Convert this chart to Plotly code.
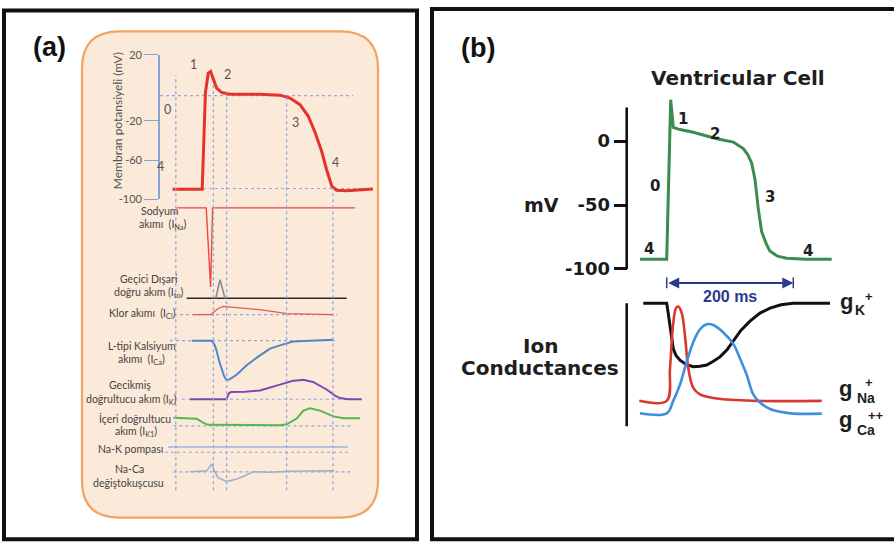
import plotly.graph_objects as go

W, H = 894, 552

# ================= DATA =================
# ---- Panel (a): action potential (schematic ms / mV) ----
ap_a_t  = [-81, -7, 1, 8, 14, 21, 29, 42, 62.5, 137.5, 187.5, 212.5, 237.5, 258, 275, 292, 304, 317, 329, 354, 387.5, 420]
ap_a_mv = [-89.7, -89.7, 8.6, 28.5, 30.5, 21.5, 13.5, 8.9, 7.3, 7.3, 6.3, 3.3, -3.4, -15, -31.6, -51.5, -69.8, -86.4, -90.7, -91.3, -90.7, -89.5]
ap_a_tickvals = [47.4, -20, -60, -100]
ap_a_ticktext = ["20", "-20", "-60", "-100"]
ap_a_zero_t, ap_a_zero_mv = [-112.5, 370], [5.9, 5.9]
ap_a_rest_t, ap_a_rest_mv = [-80, 420], [-88.9, -88.9]
phase_t_a = [-73, 21, 54, 204, 320]
phase_labels_a = ["1", "2", "0", "3", "4", "4"]

# ---- Panel (a): ionic currents (normalised amplitude) ----
na_t = [-71, 3, 14, 19, 375]
na_v = [0, 0, -1, 0, 0]

ito_base_t, ito_base_v = [-46, 354], [0, 0]
ito_t = [27, 37.5, 50]
ito_v = [0, 1, 0]

cl_t = [-30, 15, 20, 32, 45, 87, 137, 205, 320]
cl_v = [0, 0, 0.24, 0.72, 1.0, 0.84, 0.6, 0.12, 0]
cl_ref_t = [-62.5, 330]

ca_t = [-33, 17, 24, 29, 35, 42, 47.5, 54, 62.5, 79, 104, 137.5, 162.5, 187.5, 220, 320]
ca_v = [0, 0, -0.11, -0.25, -0.5, -0.7, -0.89, -1, -0.97, -0.86, -0.62, -0.37, -0.2, -0.12, -0.02, 0.02]
ca_ref_t = [-87.5, 329]

k_t = [-37.5, 54, 59, 65, 100, 137.5, 187.5, 217.5, 246, 270, 304, 325, 337.5, 357.5, 392]
k_v = [0, 0, 0.285, 0.37, 0.385, 0.45, 0.75, 0.935, 1.0, 0.885, 0.5, 0.185, 0.06, 0, 0]
k_ref_t = [-58, 392]

k1_t = [-79, -21, -4, 8, 187.5, 204, 229, 246, 262.5, 287.5, 321, 346, 387.5]
k1_v = [0.46, 0.41, 0.17, 0.06, 0.04, 0.09, 0.41, 0.87, 1.0, 0.87, 0.54, 0.44, 0.44]
k1_ref_t = [-79, 371]

nak_t, nak_v = [-92.5, 357.5], [1, 1]
nak_ref_t = [-100, 357.5]

naca_t = [-37.5, 5, 11, 17, 22.5, 32.5, 54, 75, 100, 120, 162.5, 212.5, 320]
naca_v = [0, 0.125, 0.625, 1.0, 0.25, -0.75, -1.25, -1.0, -0.5, 0, -0.06, 0.06, 0.125]
naca_ref_t = [-79, 371]

current_labels = [
    "Sodyum", "akımı  (I<sub>Na</sub>)",
    "Geçici Dışari", "doğru akım (I<sub>to</sub>)",
    "Klor akımı  (I<sub>Cl</sub>)",
    "L-tipi Kalsiyum", "akımı  (I<sub>Ca</sub>)",
    "Gecikmiş", "doğrultucu akım (I<sub>K</sub>)",
    "İçeri doğrultucu", "akım (I<sub>K1</sub>)",
    "Na-K pompası",
    "Na-Ca", "değiştokuşcusu",
]

# ---- Panel (b): ventricular AP and conductances ----
ap_b_t  = [-42.2, 0, 6.3, 10.4, 21, 42, 79, 105.2, 121, 128, 134.3, 139.5, 144.7, 150, 157, 163, 175, 189.6, 221, 260.7]
ap_b_mv = [-92.4, -92.4, 32.3, 10.7, 9.0, 6.9, 1.8, -0.8, -5.9, -10.5, -17.3, -30, -53, -70.8, -80, -86, -90, -91.6, -92.4, -92.4]
ap_b_tickvals = [0, -50, -100]
ap_b_ticktext = ["0", "-50", "-100"]
ap_b_axis_extent = [-100, 26.2]
phase_labels_b = ["1", "2", "0", "3", "4", "4"]

gk_t = [-37, 0, 2.05, 5.2, 10.4, 14.7, 21, 30.5, 42, 52.6, 63.2, 73.1, 84.2, 95.3, 105.2, 117.4, 131.6, 147.4, 163.2, 180.6, 200, 258]
gk_v = [1.0, 1.0, 0.931, 0.814, 0.629, 0.574, 0.537, 0.502, 0.484, 0.487, 0.497, 0.526, 0.563, 0.621, 0.695, 0.78, 0.854, 0.919, 0.96, 0.987, 1.0, 1.0]

gna_t = [-43.3, 0, 5.2, 10.4, 14.7, 18.3, 23.7, 28.9, 34.1, 42, 52.6, 79, 142.2, 244.9]
gna_v = [0.206, 0.206, 0.471, 0.841, 0.96, 0.973, 0.921, 0.735, 0.471, 0.312, 0.259, 0.225, 0.206, 0.206]

gca_t = [-42.2, 0, 10.4, 21, 31.6, 42, 52.6, 63.2, 73.6, 89.4, 105.2, 115.8, 126.4, 136.8, 147.4, 163.2, 184.2, 200, 244.9]
gca_v = [0.105, 0.105, 0.206, 0.338, 0.524, 0.683, 0.788, 0.828, 0.822, 0.762, 0.669, 0.55, 0.417, 0.259, 0.193, 0.14, 0.113, 0.102, 0.102]
cond_axis_extent = [0, 1]
duration_ms = [0, 200]

# ================= LAYOUT HELPERS =================
def px(x):
    return x / W

def py(y):
    return 1 - y / H

def band(base, scale, lo, hi):
    return dict(domain=[1 - (base - lo * scale) / H, 1 - (base - hi * scale) / H], range=[lo, hi])

F_A = "Lato"
F_B = "DejaVu Sans"
DASH = "3px,3px"
REF_COL = "#8eaad8"

fig = go.Figure()

def line(x, y, xa, ya, color, width, dash=None, shape="linear"):
    fig.add_trace(go.Scatter(x=x, y=y, xaxis=xa, yaxis=ya, mode="lines",
                             line=dict(color=color, width=width, dash=dash, shape=shape),
                             hoverinfo="skip", showlegend=False))

# ---- panel (a) traces ----
line(ap_a_zero_t, ap_a_zero_mv, "x", "y", REF_COL, 1.2, DASH)
line(ap_a_rest_t, ap_a_rest_mv, "x", "y", REF_COL, 1.2, DASH)
line(ap_a_t, ap_a_mv, "x", "y", "#e6322a", 3)

line(na_t, na_v, "x", "y2", "#ea4a40", 1.4)

line(ito_base_t, ito_base_v, "x", "y3", "#2a2a2a", 1.4)
line(ito_t, ito_v, "x", "y3", "#8c8c8c", 1.6)

line(cl_ref_t, [0, 0], "x", "y4", REF_COL, 1.2, DASH)
line(cl_t, cl_v, "x", "y4", "#e8574e", 1.3)

line(ca_ref_t, [0, 0], "x", "y5", REF_COL, 1.2, DASH)
line(ca_t, ca_v, "x", "y5", "#4f86c6", 2.0)

line(k_ref_t, [0, 0], "x", "y6", REF_COL, 1.2, DASH)
line(k_t, k_v, "x", "y6", "#7d48b0", 2.0)

line(k1_ref_t, [0, 0], "x", "y7", REF_COL, 1.2, DASH)
line(k1_t, k1_v, "x", "y7", "#55b84c", 2.0)

line(nak_ref_t, [0, 0], "x", "y8", REF_COL, 1.2, DASH)
line(nak_t, nak_v, "x", "y8", "#9bb6dc", 1.5)

line(naca_ref_t, [0, 0], "x", "y9", REF_COL, 1.2, DASH)
line(naca_t, naca_v, "x", "y9", "#9ab0cc", 1.5)

# ---- panel (b) traces ----
line(ap_b_t, ap_b_mv, "x2", "y10", "#3c8c50", 3)
line(gk_t, gk_v, "x2", "y11", "#111111", 3)
line(gna_t, gna_v, "x2", "y11", "#d9382e", 2.6, shape="spline")
line(gca_t, gca_v, "x2", "y11", "#3a8fe0", 2.6, shape="spline")

# ================= AXES =================
xa_dom = [159, 378]
xa_rng = [(159 - 205) * 2.5, (378 - 205) * 2.5]
fb = 200 / 126.6
xb_dom = [626.7, 845]
xb_rng = [(626.7 - 666.7) * fb, (845 - 666.7) * fb]

layout = dict(
    width=W, height=H, margin=dict(l=0, r=0, t=0, b=0),
    paper_bgcolor="white", plot_bgcolor="rgba(0,0,0,0)", showlegend=False,
    xaxis=dict(domain=[px(xa_dom[0]), px(xa_dom[1])], range=xa_rng, visible=False, anchor="y"),
    xaxis2=dict(domain=[px(xb_dom[0]), px(xb_dom[1])], range=xb_rng, visible=False, anchor="y10"),
    yaxis=dict(domain=[py(197), py(49)], range=[-100, 47.4], anchor="free", position=px(159),
               showline=True, linecolor="#86a3d3", linewidth=1.6, ticks="outside", ticklen=14,
               tickwidth=1.4, tickcolor="#86a3d3", tickvals=ap_a_tickvals, ticktext=ap_a_ticktext,
               tickfont=dict(family=F_A, size=11, color="#555555"), showgrid=False, zeroline=False),
    yaxis10=dict(domain=[py(275), py(85)], range=[(137.3 - 275) / 1.31, (137.3 - 85) / 1.31],
                 anchor="free", position=px(626.7), showline=False, ticks="outside", ticklen=13,
                 tickwidth=2.5, tickcolor="#111111", tickvals=ap_b_tickvals,
                 ticktext=["<b>%s</b>" % t for t in ap_b_ticktext],
                 tickfont=dict(family=F_B, size=18, color="#1a1a1a"), showgrid=False, zeroline=False),
    yaxis11=dict(domain=[py(440), py(295)], range=[(429.3 - 440) / 126, (429.3 - 295) / 126],
                 anchor="free", position=px(626.7), visible=False),
)
bands = {
    "yaxis2": band(205.7, 81, -1.1, 0.15),
    "yaxis3": band(298.3, 19, -0.2, 1.2),
    "yaxis4": band(315, 8.3, -0.6, 1.5),
    "yaxis5": band(341.7, 40.6, -1.15, 0.2),
    "yaxis6": band(401.7, 20, -0.3, 1.2),
    "yaxis7": band(429, 18, -0.3, 1.25),
    "yaxis8": band(456, 5.3, -0.6, 1.6),
    "yaxis9": band(476, 8, -1.6, 1.4),
}
for k, v in bands.items():
    layout[k] = dict(v, anchor="x", visible=False)
fig.update_layout(**layout)

# ================= SHAPES =================
shapes = []
# panel frames
shapes.append(dict(type="rect", xref="paper", yref="paper", x0=px(4), x1=px(417), y0=py(545), y1=py(3.5),
                   line=dict(color="#111111", width=4), layer="below"))
shapes.append(dict(type="rect", xref="paper", yref="paper", x0=px(432), x1=px(900), y0=py(545), y1=py(2),
                   line=dict(color="#111111", width=4), layer="below"))
# peach rounded box
L, R, T, B, r = 82, 378, 25, 523, 38
path = (f"M {px(L+r)},{py(T)} L {px(R-r)},{py(T)} Q {px(R)},{py(T)} {px(R)},{py(T+r)} "
        f"L {px(R)},{py(B-r)} Q {px(R)},{py(B)} {px(R-r)},{py(B)} "
        f"L {px(L+r)},{py(B)} Q {px(L)},{py(B)} {px(L)},{py(B-r)} "
        f"L {px(L)},{py(T+r)} Q {px(L)},{py(T)} {px(L+r)},{py(T)} Z")
shapes.append(dict(type="path", xref="paper", yref="paper", path=path, fillcolor="#fbe9da",
                   line=dict(color="#f0a462", width=2.2), layer="below"))
# phase boundary lines (a)
phase_tops_px = [70, 80, 88, 90, 185]
for t, top in zip(phase_t_a, phase_tops_px):
    shapes.append(dict(type="line", xref="x", yref="paper", x0=t, x1=t, y0=py(495), y1=py(top),
                       line=dict(color=REF_COL, width=1.3, dash=DASH), layer="above"))
# axis lines (b)
shapes.append(dict(type="line", xref="paper", yref="y10", x0=px(626.7), x1=px(626.7),
                   y0=ap_b_axis_extent[0], y1=ap_b_axis_extent[1], line=dict(color="#111111", width=2.6)))
shapes.append(dict(type="line", xref="paper", yref="y11", x0=px(626.7), x1=px(626.7),
                   y0=cond_axis_extent[0], y1=cond_axis_extent[1], line=dict(color="#111111", width=2.6)))
# arrow end bars
for t in duration_ms:
    shapes.append(dict(type="line", xref="x2", yref="paper", x0=t, x1=t, y0=py(288), y1=py(277),
                       line=dict(color="#2b3a8c", width=1.5)))
fig.update_layout(shapes=shapes)

# ================= ANNOTATIONS =================
anns = []

def text(s, x, y, size, color, family, xanchor="center", angle=0):
    anns.append(dict(text=s, x=px(x), y=py(y), xref="paper", yref="paper", showarrow=False,
                     xanchor=xanchor, yanchor="middle", textangle=angle,
                     font=dict(family=family, size=size, color=color)))

text("<b>(a)</b>", 49.5, 41, 27, "#111111", "Liberation Sans")
text("<b>(b)</b>", 478, 42, 27, "#111111", "Liberation Sans")

# (a) axis title and phase numbers
text("Membran potansiyeli (mV)", 117, 117, 12, "#555555", F_A, angle=-90)
for s, (x, y) in zip(phase_labels_a, [(193, 59), (227, 69), (167, 105), (295, 118), (160, 163), (335, 159)]):
    text(s, x, y, 12.5, "#555555", F_A)

# (a) current labels
cl_pos = [(159, 209), (163, 223), (148, 279), (149, 293), (142, 314), (142, 347), (141, 362),
          (130, 387), (131, 402), (135, 421), (136, 435), (130, 453), (129, 473), (128, 487)]
for s, (x, y) in zip(current_labels, cl_pos):
    text(s, x, y, 10.5, "#444444", F_A)

# (b) texts
text("<b>Ventricular Cell</b>", 738, 73, 20, "#1e1e1e", F_B)
text("<b>mV</b>", 541, 203, 19, "#1e1e1e", F_B)
text("<b>Ion</b>", 540, 347, 20, "#1e1e1e", F_B)
text("<b>Conductances</b>", 540, 370, 20, "#1e1e1e", F_B)
for s, (x, y) in zip(phase_labels_b, [(683, 115), (715, 130), (655, 183), (770, 195), (649, 248), (808, 250)]):
    text("<b>%s</b>" % s, x, y, 15, "#1e1e1e", F_B)

# conductance labels
G = "Liberation Sans"
text("<b>g</b>", 846, 302, 22, "#1e1e1e", G)
text("<b>K</b>", 860, 310, 14, "#1e1e1e", G)
text("<b>+</b>", 868.5, 296, 13, "#1e1e1e", G)
text("<b>g</b>", 845, 391, 22, "#1e1e1e", G)
text("<b>Na</b>", 865.5, 400, 14, "#1e1e1e", G)
text("<b>+</b>", 869, 385, 13, "#1e1e1e", G)
text("<b>g</b>", 845, 422, 22, "#1e1e1e", G)
text("<b>Ca</b>", 865.5, 433, 14, "#1e1e1e", G)
text("<b>++</b>", 876, 418.5, 13, "#1e1e1e", G)

# 200 ms arrow
anns.append(dict(x=duration_ms[1], y=py(282.7), xref="x2", yref="paper", ax=duration_ms[0], ay=0,
                 axref="x2", ayref="pixel", text="", showarrow=True, arrowside="end+start",
                 arrowhead=2, startarrowhead=2, arrowsize=1.1, startarrowsize=1.1,
                 arrowwidth=2, arrowcolor="#2b3a8c"))
anns.append(dict(text="<b>200 ms</b>", x=(duration_ms[0] + duration_ms[1]) / 2, y=py(296), xref="x2",
                 yref="paper", showarrow=False, font=dict(family="Liberation Sans", size=16, color="#2b3a8c")))

fig.update_layout(annotations=anns)
fig.write_html("out.html", config={"displayModeBar": False},
               post_script="document.body.style.margin='0';document.body.style.padding='0';")
